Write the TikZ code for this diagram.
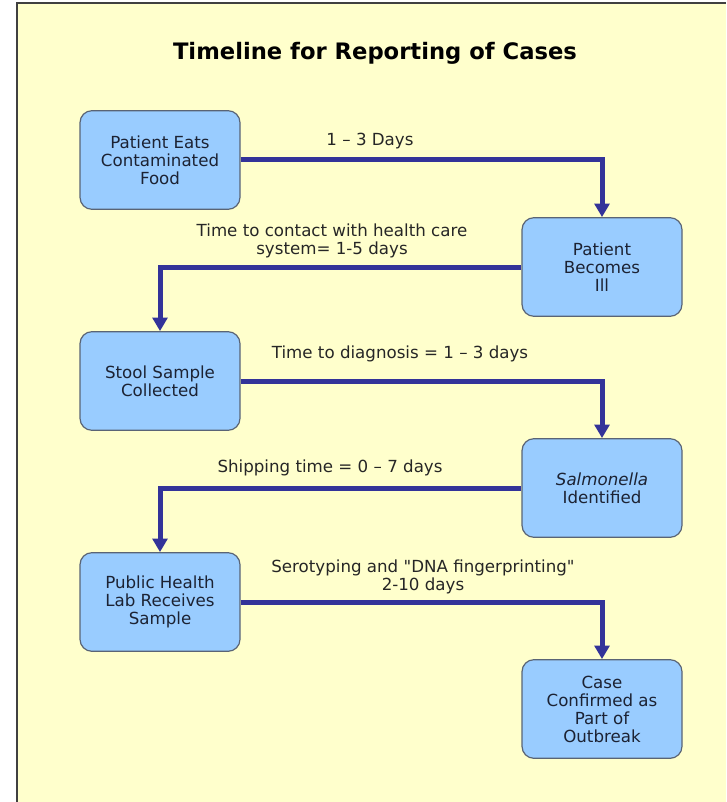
\documentclass[tikz,border=0pt]{standalone}
\usepackage{fontspec}
\setmainfont{DejaVu Sans}
\usetikzlibrary{positioning, arrows.meta}

\definecolor{paper}{HTML}{FFFFCC}
\definecolor{boxfill}{HTML}{99CCFF}
\definecolor{boxline}{HTML}{5A6475}
\definecolor{flowblue}{HTML}{333399}
\definecolor{boxtext}{HTML}{1C2233}

\tikzset{
  stage/.style={draw=boxline, line width=0.9pt, fill=boxfill, rounded corners=9pt,
    minimum width=120pt, minimum height=74pt, align=center, text=boxtext,
    font=\fontsize{12.5}{13.5}\selectfont},
  flow/.style={draw=flowblue, line width=3.75pt,
    -{Triangle[width=11pt,length=10pt]}},
  lbl/.style={align=center, text=black!85, font=\fontsize{12.5}{13.5}\selectfont}
}

\begin{document}
\begin{tikzpicture}[x=0.75pt, y=-0.75pt]
	\useasboundingbox (0,0) rectangle (726,802);
	\fill[white] (0,0) rectangle (726,802);
	\fill[paper] (17,3) rectangle (726,802);
	\draw[black!75, line width=1.5pt] (17,802) -- (17,3) -- (726,3);
	\node (title) at (375,53) {\fontsize{17}{20}\selectfont\bfseries Timeline for Reporting of Cases};
	% the six stages
	\node[stage] (eat) at (160,160) {Patient Eats\\Contaminated\\Food};
	\node[stage] (ill) at (602,267) {Patient\\Becomes\\Ill};
	\node[stage] (stool) at (160,381) {Stool Sample\\Collected};
	\node[stage] (ident) at (602,488) {\textit{Salmonella}\\Identified};
	\node[stage] (lab) at (160,602) {Public Health\\Lab Receives\\Sample};
	\node[stage] (case) at (602,709) {Case\\Confirmed as\\Part of\\Outbreak};
	% time spans
	\draw[flow] (eat.east) -| (ill.north);
	\draw[flow] (ill.west) -| (stool.north);
	\draw[flow] (stool.east) -| (ident.north);
	\draw[flow] (ident.west) -| (lab.north);
	\draw[flow] (lab.east) -| (case.north);
	\node[lbl] (d1) at (370,141) {1 -- 3 Days};
	\node[lbl] (d2) at (332,241) {Time to contact with health care\\system= 1-5 days};
	\node[lbl] (d3) at (400,354) {Time to diagnosis = 1 -- 3 days};
	\node[lbl] (d4) at (330,468) {Shipping time = 0 -- 7 days};
	\node[lbl] (d5) at (423,577) {Serotyping and \textquotedbl DNA fingerprinting\textquotedbl\\2-10 days};
\end{tikzpicture}
\end{document}
